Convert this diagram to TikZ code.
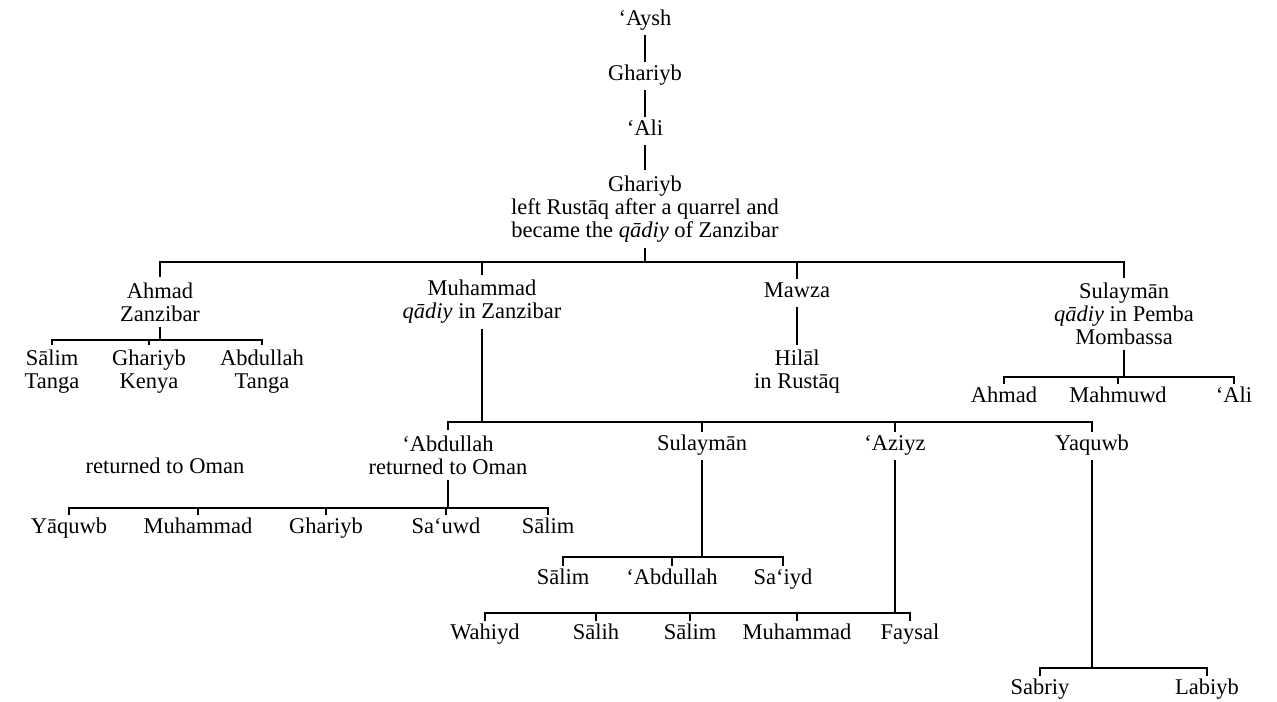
\documentclass[tikz,border=0pt]{standalone}
\usepackage{fontspec}
\setmainfont{Liberation Serif}
\begin{document}
\begin{tikzpicture}[x=0.02cm, y=-0.02cm,
  person/.style={align=center, font=\fontsize{12.8}{13}\selectfont, inner sep=3pt},
  oneline/.style={person, text height=0.72em, text depth=0.24em, yshift=-0.06cm},
  link/.style={line width=1pt}]

\useasboundingbox (0,0) rectangle (1277,702);

% line of descent
\node[oneline] (aysh) at (645,18) {‘Aysh};
\node[oneline] (gh1) at (645,73) {Ghariyb};
\node[oneline] (ali) at (645,128) {‘Ali};
\node[person] (gh2) at (645,209) {Ghariyb\\left Rustāq after a quarrel and\\became the \textit{qādiy} of Zanzibar};
\draw[link] (aysh) -- (gh1);
\draw[link] (gh1) -- (ali);
\draw[link] (ali) -- (gh2);

% sons of Ghariyb
\node[person] (ahmad) at (160,302) {Ahmad\\Zanzibar};
\node[person] (muh) at (482,302) {Muhammad\\\textit{qādiy} in Zanzibar};
\node[oneline] (mawza) at (797,290) {Mawza};
\node[person] (sulay) at (1124,314) {Sulaymān\\\textit{qādiy} in Pemba\\Mombassa};
\coordinate (j0) at (645,262);
\draw[link] (gh2) -- (j0);
\draw[link] (ahmad.north) |- (j0) -| (sulay.north);
\draw[link] (muh.north) -- (muh.north |- j0);
\draw[link] (mawza.north) -- (mawza.north |- j0);

% Ahmad
\node[person] (as1) at (52,372) {Sālim\\Tanga};
\node[person] (ag) at (149,372) {Ghariyb\\Kenya};
\node[person] (aa) at (262,372) {Abdullah\\Tanga};
\coordinate (jA) at (160,340);
\draw[link] (ahmad) -- (jA);
\draw[link] (as1.north) |- (jA) -| (aa.north);
\draw[link] (ag.north) -- (ag.north |- jA);

% Mawza
\node[person] (hilal) at (797,372) {Hilāl\\in Rustāq};
\draw[link] (mawza) -- (hilal);

% Sulayman
\node[oneline] (sa) at (1004,395) {Ahmad};
\node[oneline] (sm) at (1118,395) {Mahmuwd};
\node[oneline] (sal) at (1234,395) {‘Ali};
\coordinate (jS) at (1124,377);
\draw[link] (sulay) -- (jS);
\draw[link] (sa.north) |- (jS) -| (sal.north);
\draw[link] (sm.north) -- (sm.north |- jS);

% Muhammad
\node[person] (mab) at (448,455) {‘Abdullah\\returned to Oman};
\node[oneline] (msu) at (702,443) {Sulaymān};
\node[oneline] (maz) at (895,443) {‘Aziyz};
\node[oneline] (mya) at (1092,443) {Yaquwb};
\coordinate (jM) at (482,422);
\draw[link] (muh) -- (jM);
\draw[link] (mab.north) |- (jM) -| (mya.north);
\draw[link] (msu.north) -- (msu.north |- jM);
\draw[link] (maz.north) -- (maz.north |- jM);

\node[oneline] (ret) at (165,466) {returned to Oman};

% 'Abdullah
\foreach \n/\x/\t in {1/69/Yāquwb, 2/198/Muhammad, 3/326/Ghariyb, 4/446/Sa‘uwd, 5/548/Sālim}
  \node[oneline] (ab\n) at (\x,526) {\t};
\coordinate (jAb) at (448,508);
\draw[link] (mab) -- (jAb);
\draw[link] (ab1.north) |- (jAb) -| (ab5.north);
\foreach \n in {2,3,4}
  \draw[link] (ab\n.north) -- (ab\n.north |- jAb);

% Sulayman son of Muhammad
\foreach \n/\x/\t in {1/563/Sālim, 2/672/‘Abdullah, 3/783/Sa‘iyd}
  \node[oneline] (su\n) at (\x,577) {\t};
\coordinate (jSu) at (702,557);
\draw[link] (msu) -- (jSu);
\draw[link] (su1.north) |- (jSu) -| (su3.north);
\draw[link] (su2.north) -- (su2.north |- jSu);

% 'Aziyz
\foreach \n/\x/\t in {1/485/Wahiyd, 2/596/Sālih, 3/690/Sālim, 4/797/Muhammad, 5/910/Faysal}
  \node[oneline] (az\n) at (\x,632) {\t};
\coordinate (jAz) at (895,613);
\draw[link] (maz) -- (jAz);
\draw[link] (az1.north) |- (jAz) -| (az5.north);
\foreach \n in {2,3,4}
  \draw[link] (az\n.north) -- (az\n.north |- jAz);

% Yaquwb
\node[oneline] (ya1) at (1040,687) {Sabriy};
\node[oneline] (ya2) at (1207,687) {Labiyb};
\coordinate (jY) at (1092,668);
\draw[link] (mya) -- (jY);
\draw[link] (ya1.north) |- (jY) -| (ya2.north);

\end{tikzpicture}
\end{document}
